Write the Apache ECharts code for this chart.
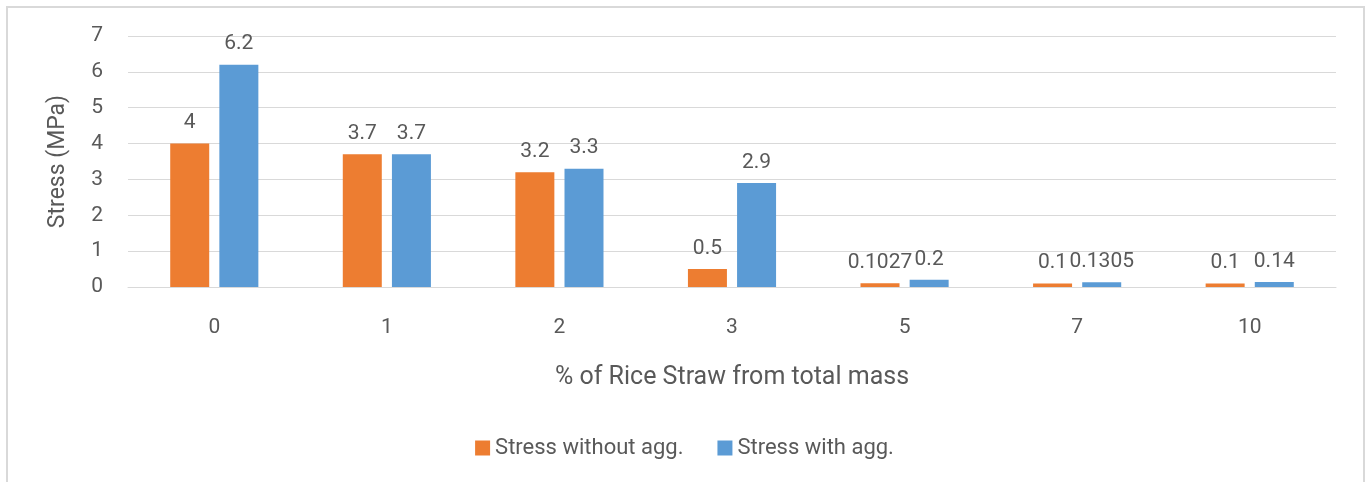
<!DOCTYPE html>
<html>
<head>
<meta charset="utf-8">
<script src="https://cdn.jsdelivr.net/npm/echarts@6/dist/echarts.min.js"></script>
<style>
html,body{margin:0;padding:0;background:#fff;}
#main{width:1369px;height:482px;}
</style>
</head>
<body>
<div id="main"></div>
<script>
var categories = ['0', '1', '2', '3', '5', '7', '10'];
var stressWithout = [4, 3.7, 3.2, 0.5, 0.1027, 0.1, 0.1];
var stressWith = [6.2, 3.7, 3.3, 2.9, 0.2, 0.1305, 0.14];
var seriesNames = ['Stress without agg.', 'Stress with agg.'];

var txt = '#595959';
var fnt = 'Roboto';
var myChart = echarts.init(document.getElementById('main'));
myChart.setOption({
    textStyle: {fontFamily: fnt, color: txt},
    graphic: [{
        type: 'rect',
        shape: {x: 7, y: 7, width: 1357, height: 500},
        style: {fill: 'none', stroke: '#d9d9d9', lineWidth: 2},
        silent: true
    }],
    grid: {left: 128, right: 33, top: 36, bottom: 195},
    legend: {
        bottom: 18,
        left: 'center',
        itemWidth: 15,
        itemHeight: 15,
        itemGap: 34,
        icon: 'rect',
        textStyle: {fontSize: 22, color: txt, fontFamily: fnt},
        data: seriesNames
    },
    xAxis: {
        type: 'category',
        data: categories,
        name: '% of Rice Straw from total mass',
        nameLocation: 'middle',
        nameGap: 78,
        nameTextStyle: {fontSize: 25, color: txt},
        axisLine: {lineStyle: {color: '#d9d9d9', width: 1}},
        axisTick: {show: false},
        axisLabel: {fontSize: 21, color: txt, margin: 30}
    },
    yAxis: {
        type: 'value',
        min: 0,
        max: 7,
        interval: 1,
        name: 'Stress (MPa)',
        nameLocation: 'middle',
        nameGap: 58,
        nameTextStyle: {fontSize: 23, color: txt},
        axisLine: {show: false},
        axisTick: {show: false},
        axisLabel: {fontSize: 21, color: txt, margin: 25},
        splitLine: {lineStyle: {color: '#d9d9d9', width: 1}}
    },
    series: [
        {
            name: seriesNames[0],
            type: 'bar',
            data: stressWithout,
            barWidth: 39,
            barGap: '26%',
            itemStyle: {color: '#ED7D31'},
            label: {show: true, position: 'top', distance: 10, fontSize: 21, color: txt}
        },
        {
            name: seriesNames[1],
            type: 'bar',
            data: stressWith,
            barWidth: 39,
            itemStyle: {color: '#5B9BD5'},
            label: {show: true, position: 'top', distance: 10, fontSize: 21, color: txt}
        }
    ]
});
</script>
</body>
</html>
